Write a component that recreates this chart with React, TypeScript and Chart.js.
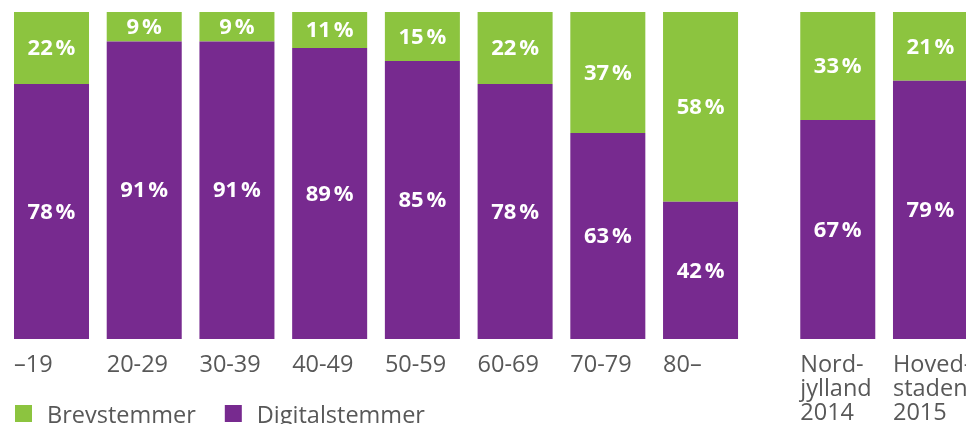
import React, { useEffect, useRef } from "react";
import { Chart, registerables } from "chart.js";

Chart.register(...registerables);

const categories: string[][] = [
  ["–19"],
  ["20-29"],
  ["30-39"],
  ["40-49"],
  ["50-59"],
  ["60-69"],
  ["70-79"],
  ["80–"],
  ["Nord-", "jylland", "2014"],
  ["Hoved-", "staden", "2015"],
];
// 0 = age groups, 1 = regional comparison
const groups = [0, 0, 0, 0, 0, 0, 0, 0, 1, 1];
const digitalstemmer = [78, 91, 91, 89, 85, 78, 63, 42, 67, 79];
const brevstemmer = [22, 9, 9, 11, 15, 22, 37, 58, 33, 21];

const GREEN = "#8CC43F";
const PURPLE = "#772A8F";
const TEXT = "#585858";
const GROUP_GAP = 0.48;
const LABEL_FONT = "23.5px 'Open Sans'";
const VALUE_FONT = "bold 22px 'Open Sans'";

const slot = (i: number) => i + groups[i] * GROUP_GAP;

const overlayPlugin = {
  id: "overlay",
  afterDatasetsDraw(chart: any) {
    const ctx = chart.ctx;
    ctx.save();
    // value labels
    ctx.font = VALUE_FONT;
    ctx.fillStyle = "#ffffff";
    ctx.textAlign = "center";
    ctx.textBaseline = "middle";
    chart.data.datasets.forEach((ds: any, di: number) => {
      const meta = chart.getDatasetMeta(di);
      meta.data.forEach((bar: any, i: number) => {
        const v = ds.data[i].y;
        const cy = (bar.y + bar.base) / 2;
        ctx.fillText(`${v}\u202F%`, bar.x, cy + 1);
      });
    });
    // category labels, left-aligned at each bar's left edge
    ctx.font = LABEL_FONT;
    ctx.fillStyle = TEXT;
    ctx.textAlign = "left";
    ctx.textBaseline = "alphabetic";
    const meta0 = chart.getDatasetMeta(0);
    const area = chart.chartArea;
    meta0.data.forEach((bar: any, i: number) => {
      const left = bar.x - bar.width / 2;
      categories[i].forEach((line, li) => {
        ctx.fillText(line, left, area.bottom + 33 + li * 24);
      });
    });
    // legend
    const items = [
      { label: chart.data.datasets[1].label, color: chart.data.datasets[1].backgroundColor },
      { label: chart.data.datasets[0].label, color: chart.data.datasets[0].backgroundColor },
    ];
    let x = area.left + 7;
    const baseY = area.bottom + 84;
    items.forEach((it) => {
      ctx.fillStyle = it.color;
      ctx.fillRect(x, baseY - 18, 17, 17);
      ctx.fillStyle = TEXT;
      ctx.fillText(it.label, x + 32, baseY);
      x += 32 + ctx.measureText(it.label).width + 29;
    });
    ctx.restore();
  },
};

export default function App() {
  const ref = useRef<HTMLCanvasElement | null>(null);
  useEffect(() => {
    document.documentElement.style.overflow = "hidden";
    document.body.style.margin = "8px 0 0 8px";
    const canvas = ref.current;
    if (!canvas) return;
    const chart = new Chart(canvas, {
      type: "bar",
      data: {
        datasets: [
          {
            label: "Digitalstemmer",
            data: digitalstemmer.map((v, i) => ({ x: slot(i), y: v })),
            backgroundColor: PURPLE,
            borderWidth: 0,
            categoryPercentage: 0.809,
            barPercentage: 1,
          },
          {
            label: "Brevstemmer",
            data: brevstemmer.map((v, i) => ({ x: slot(i), y: v })),
            backgroundColor: GREEN,
            borderWidth: 0,
            categoryPercentage: 0.809,
            barPercentage: 1,
          },
        ],
      },
      options: {
        animation: false,
        responsive: true,
        maintainAspectRatio: false,
        layout: { padding: { top: 4, bottom: 85, left: 0, right: 0 } },
        plugins: { legend: { display: false }, tooltip: { enabled: false } },
        scales: {
          x: { type: "linear", stacked: true, display: false, min: -0.4692, max: 9.863, offset: false },
          y: { stacked: true, display: false, min: 0, max: 100 },
        },
      },
      plugins: [overlayPlugin],
    } as any);
    return () => chart.destroy();
  }, []);
  return (
    <div style={{ position: "relative", width: 958, height: 416 }}>
      <canvas ref={ref} />
    </div>
  );
}
